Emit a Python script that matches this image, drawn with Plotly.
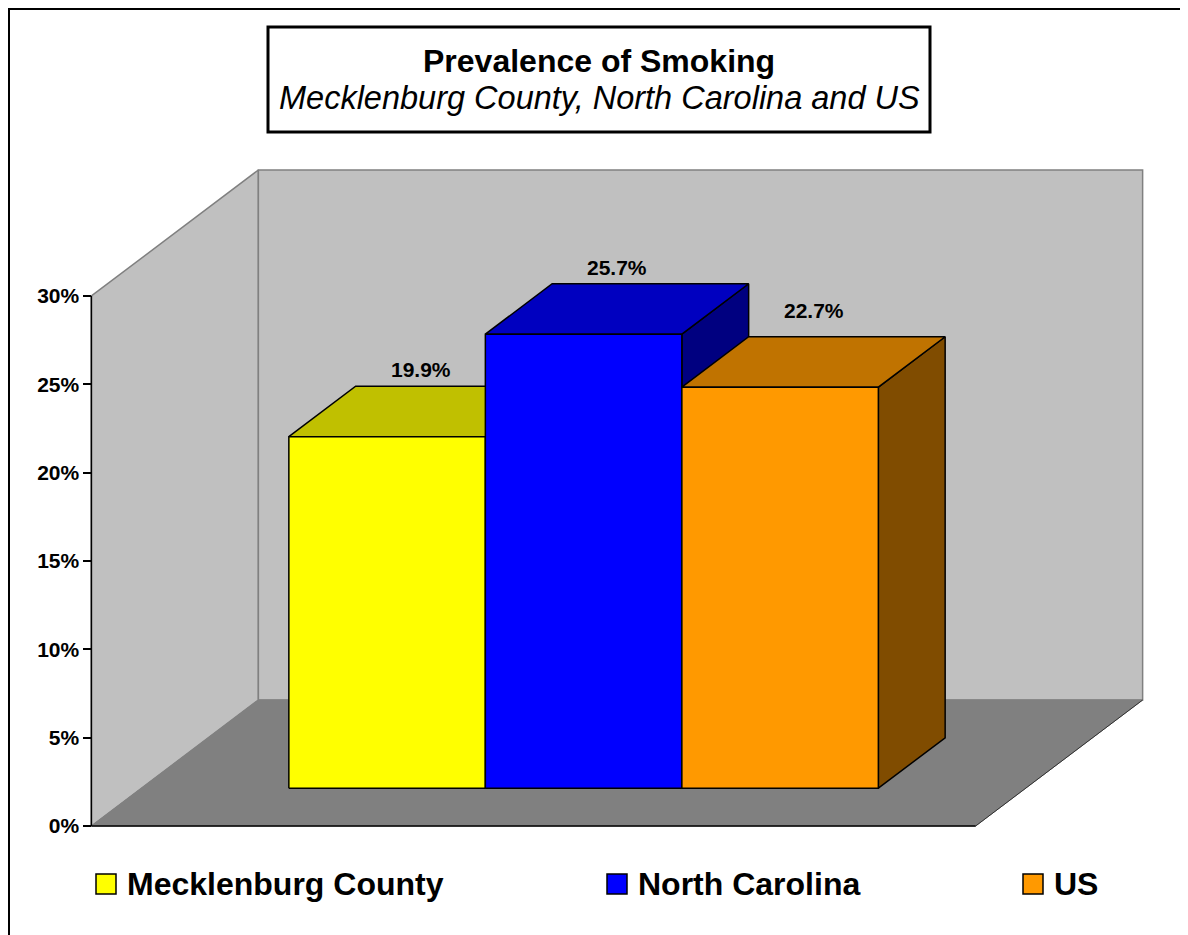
import plotly.graph_objects as go

# ---------------- data ----------------
categories = ["Mecklenburg County", "North Carolina", "US"]
values = [19.9, 25.7, 22.7]
tick_values = [0, 5, 10, 15, 20, 25, 30]
tick_labels = ["0%", "5%", "10%", "15%", "20%", "25%", "30%"]

# ---------------- styles ----------------
front_colors = ["#FFFF00", "#0000FF", "#FF9900"]
top_colors = ["#C0C000", "#0000C0", "#C07300"]
side_colors = ["#808000", "#000080", "#804C00"]
label_lift_px = [17, 16, 26]

# the page body has an 8px margin; all layout pixel values below are page pixels
OFF = 8
W, H = 1188 - OFF, 935 - OFF
FONT = "Liberation Sans, Arial, sans-serif"


def px(x):
    return (x - OFF) / W


def py(y):
    return 1 - (y - OFF) / H


# axis scale (pixels per unit) and the page-pixel position of the origin
PX_U = 196.5      # px per category
PX_P = 17.667     # px per percentage point
X0_PX = 337 - OFF  # figure pixel x of category 0 on the front plane
Y0_PX = 826 - OFF  # figure pixel y of 0 %
DX = 167 / PX_U   # depth vector in data units
DY = 126 / PX_P
F1, F2 = 0.3, 0.7  # bar front / back depth fractions
XL, XR = -1.25, len(categories) - 1 + 1.25
YMAX = tick_values[-1]

fig = go.Figure()


def poly(pts, fill, line_color, line_width):
    xs = [p[0] for p in pts] + [pts[0][0]]
    ys = [p[1] for p in pts] + [pts[0][1]]
    fig.add_trace(go.Scatter(x=xs, y=ys, mode="lines", fill="toself",
                             fillcolor=fill,
                             line=dict(color=line_color, width=line_width),
                             hoverinfo="skip", showlegend=False))


def seg(p, q, color, width):
    fig.add_trace(go.Scatter(x=[p[0], q[0]], y=[p[1], q[1]], mode="lines",
                             line=dict(color=color, width=width),
                             hoverinfo="skip", showlegend=False))


# walls and floor
poly([(XL, 0), (XL + DX, DY), (XL + DX, YMAX + DY), (XL, YMAX)], "#C0C0C0", "#808080", 1.5)
poly([(XL + DX, DY), (XR + DX, DY), (XR + DX, YMAX + DY), (XL + DX, YMAX + DY)], "#C0C0C0", "#808080", 1.5)
poly([(XL, 0), (XR, 0), (XR + DX, DY), (XL + DX, DY)], "#808080", "#808080", 1)
seg((XR, 0), (XR + DX, DY), "#303030", 1)
seg((XL, 0), (XR, 0), "#000000", 1.5)
seg((XL, 0), (XL, YMAX), "#000000", 1.5)

# 3-D bars
ox1, oy1, ox2, oy2 = F1 * DX, F1 * DY, F2 * DX, F2 * DY
for i, v in enumerate(values):
    l, r = i - 0.5, i + 0.5
    poly([(r + ox1, oy1), (r + ox2, oy2), (r + ox2, v + oy2), (r + ox1, v + oy1)],
         side_colors[i], "#000000", 1.5)
    poly([(l + ox1, v + oy1), (r + ox1, v + oy1), (r + ox2, v + oy2), (l + ox2, v + oy2)],
         top_colors[i], "#000000", 1.5)
    poly([(l + ox1, oy1), (r + ox1, oy1), (r + ox1, v + oy1), (l + ox1, v + oy1)],
         front_colors[i], "#000000", 1.5)

annotations = []
for i, v in enumerate(values):
    annotations.append(dict(x=i + (F1 + F2) / 2 * DX, y=v + F2 * DY, xref="x", yref="y",
                            text=f"<b>{v:.1f}%</b>", showarrow=False,
                            yshift=label_lift_px[i], xanchor="center", yanchor="middle",
                            font=dict(family=FONT, size=21, color="black")))

# title
annotations.append(dict(x=px(599), y=py(61), xref="paper", yref="paper",
                        text="<b>Prevalence of Smoking</b>", showarrow=False,
                        xanchor="center", yanchor="middle",
                        font=dict(family=FONT, size=32, color="black")))
annotations.append(dict(x=px(599), y=py(98), xref="paper", yref="paper",
                        text="<i>Mecklenburg County, North Carolina and US</i>", showarrow=False,
                        xanchor="center", yanchor="middle",
                        font=dict(family=FONT, size=32.5, color="black")))

shapes = [
    dict(type="rect", xref="paper", yref="paper", x0=px(9), x1=px(1186), y0=py(960), y1=py(9),
         line=dict(color="black", width=2), fillcolor="rgba(0,0,0,0)", layer="above"),
    dict(type="rect", xref="paper", yref="paper", x0=px(268), x1=px(930), y0=py(132), y1=py(27),
         line=dict(color="black", width=3), fillcolor="white", layer="below"),
]

# legend
legend_key_x = [106, 617, 1033]
legend_y = 884
for i, name in enumerate(categories):
    kx = legend_key_x[i]
    shapes.append(dict(type="rect", xref="paper", yref="paper",
                       x0=px(kx - 10), x1=px(kx + 10),
                       y0=py(legend_y + 10), y1=py(legend_y - 10),
                       line=dict(color="black", width=1.5), fillcolor=front_colors[i]))
    annotations.append(dict(x=px(kx + 19), y=py(legend_y), xref="paper", yref="paper",
                            text=f"<b>{name}</b>", showarrow=False,
                            xanchor="left", yanchor="middle",
                            font=dict(family=FONT, size=32, color="black")))

fig.update_layout(
    width=W, height=H,
    margin=dict(l=0, r=0, t=0, b=0),
    paper_bgcolor="white", plot_bgcolor="white",
    showlegend=False,
    xaxis=dict(range=[-X0_PX / PX_U, (W - X0_PX) / PX_U], visible=False, fixedrange=True),
    yaxis=dict(range=[-(H - Y0_PX) / PX_P, Y0_PX / PX_P],
               anchor="free", position=(X0_PX + XL * PX_U) / W,
               tickvals=tick_values, ticktext=tick_labels,
               ticks="outside", ticklen=8, tickwidth=1.5, tickcolor="black",
               showgrid=False, zeroline=False, showline=False,
               tickfont=dict(family=FONT, size=21, color="black", weight="bold"),
               fixedrange=True),
    shapes=shapes,
    annotations=annotations,
)

fig.write_html("out.html")
